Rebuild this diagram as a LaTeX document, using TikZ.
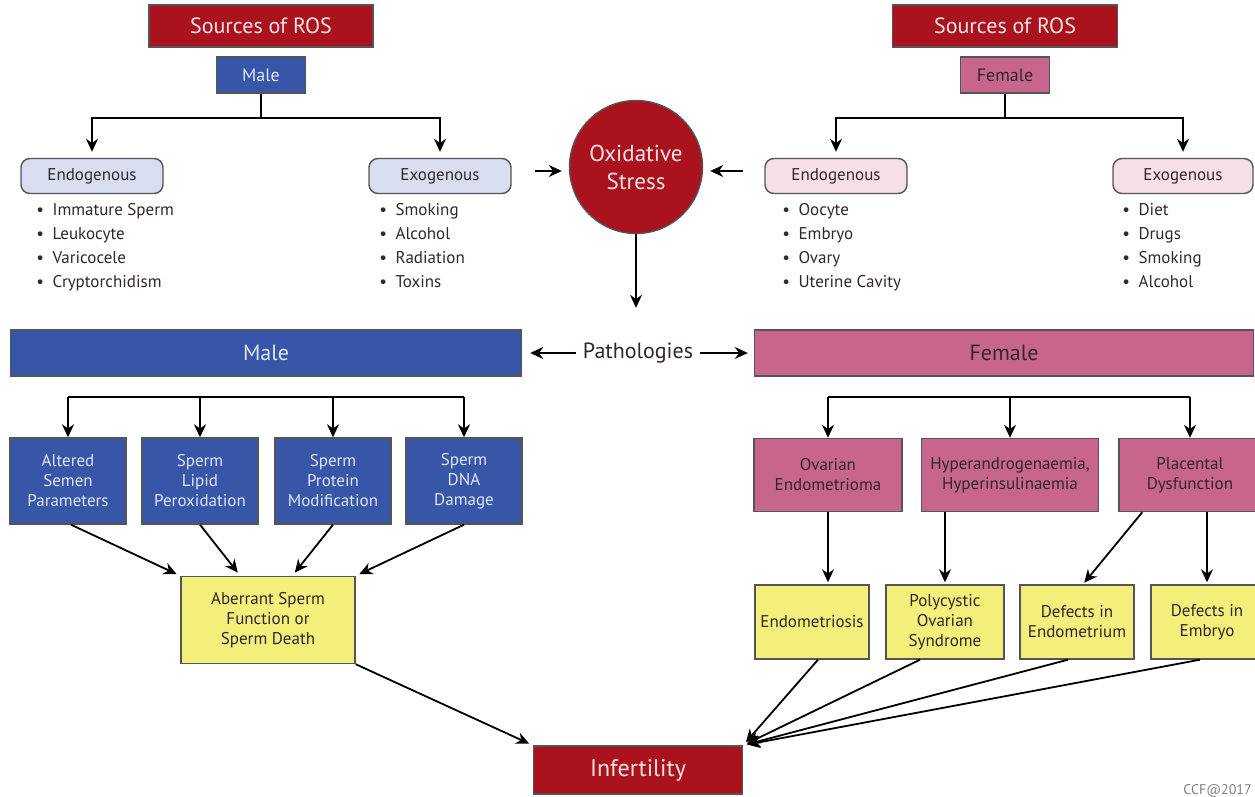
\documentclass[tikz,border=0pt]{standalone}
\usepackage{fontspec}
\setmainfont{PT Sans}
\usetikzlibrary{arrows.meta}

\definecolor{rosred}{RGB}{170,18,30}
\definecolor{maleblue}{RGB}{56,86,168}
\definecolor{femalepink}{RGB}{199,101,141}
\definecolor{malelight}{RGB}{217,221,240}
\definecolor{femalelight}{RGB}{246,223,233}
\definecolor{resultyellow}{RGB}{243,239,122}
\definecolor{paletext}{RGB}{252,228,228}
\definecolor{bluetext}{RGB}{224,229,248}
\definecolor{darktext}{RGB}{50,38,44}
\definecolor{edgegray}{RGB}{85,85,85}

\tikzset{
  box/.style={draw=edgegray, line width=0.7pt, align=center, inner sep=2pt},
  redbox/.style={box, fill=rosred, text=paletext},
  bluebox/.style={box, fill=maleblue, text=bluetext},
  pinkbox/.style={box, fill=femalepink, text=darktext},
  yellowbox/.style={box, fill=resultyellow, text=darktext,
    font=\fontsize{8.5}{10}\selectfont},
  origin/.style={box, rounded corners=4.5pt, minimum width=71pt,
    minimum height=17.5pt, text=darktext, font=\fontsize{8.5}{10}\selectfont},
  bullets/.style={anchor=north west, inner sep=0pt, align=left, text=darktext,
    font=\fontsize{8.5}{12}\selectfont},
  arr/.style={-{Stealth[length=6.5pt,width=6pt]}, line width=0.9pt},
  fork/.style={line width=0.9pt}
}

\begin{document}
\begin{tikzpicture}[x=0.5pt,y=-0.5pt]
  \useasboundingbox (0,0) rectangle (1255,797);

  % --- sources of ROS, male side
  \node[redbox, minimum width=112pt, minimum height=21pt,
        font=\fontsize{11}{13}\selectfont] (srcm) at (261,26) {Sources of ROS};
  \node[bluebox, minimum width=44.5pt, minimum height=18pt,
        font=\fontsize{9}{11}\selectfont] (male) at (261,75) {Male};
  \node[origin, fill=malelight] (mendo) at (92,176) {Endogenous};
  \node[origin, fill=malelight] (mexo) at (440,176) {Exogenous};
  \node[bullets] (mendlist) at (36,203)
    {\textbullet\enspace Immature Sperm\\ \textbullet\enspace Leukocyte\\
     \textbullet\enspace Varicocele\\ \textbullet\enspace Cryptorchidism};
  \node[bullets] (mexolist) at (379,203)
    {\textbullet\enspace Smoking\\ \textbullet\enspace Alcohol\\
     \textbullet\enspace Radiation\\ \textbullet\enspace Toxins};

  % --- sources of ROS, female side
  \node[redbox, minimum width=112.5pt, minimum height=21pt,
        font=\fontsize{11}{13}\selectfont] (srcf) at (1005,26) {Sources of ROS};
  \node[pinkbox, minimum width=44.5pt, minimum height=18pt,
        font=\fontsize{9}{11}\selectfont] (female) at (1005,75) {Female};
  \node[origin, fill=femalelight] (fendo) at (836,176) {Endogenous};
  \node[origin, fill=femalelight, minimum width=70pt] (fexo) at (1183,176) {Exogenous};
  \node[bullets] (fendlist) at (782,203)
    {\textbullet\enspace Oocyte\\ \textbullet\enspace Embryo\\
     \textbullet\enspace Ovary\\ \textbullet\enspace Uterine Cavity};
  \node[bullets] (fexolist) at (1122,203)
    {\textbullet\enspace Diet\\ \textbullet\enspace Drugs\\
     \textbullet\enspace Smoking\\ \textbullet\enspace Alcohol};

  \coordinate (mfork) at (261,118);
  \coordinate (ffork) at (1005,118);
  \draw[fork] (male) -- (mfork);
  \draw[arr, shorten >=3pt] (mfork) -| (mendo);
  \draw[arr, shorten >=3pt] (mfork) -| (mexo);
  \draw[fork] (female) -- (ffork);
  \draw[arr, shorten >=3pt] (ffork) -| (fendo);
  \draw[arr, shorten >=3pt] (ffork) -| (fexo);

  % --- oxidative stress
  \node[circle, draw=edgegray, line width=0.7pt, fill=rosred, text=paletext,
        minimum size=66.5pt, inner sep=0pt, align=center,
        font=\fontsize{11.5}{14}\selectfont] (oxy) at (636,167) {Oxidative\\Stress};
  \coordinate (inm) at (535,171);
  \coordinate (inf) at (743,171);
  \draw[arr, line width=0.6pt, shorten >=3.5pt] (inm) -- (oxy.west |- inm);
  \draw[arr, line width=0.6pt, shorten >=3.5pt] (inf) -- (oxy.east |- inf);

  % --- pathologies
  \node[font=\fontsize{11}{13}\selectfont, text=darktext] (patho) at (638,353) {Pathologies};
  \node[bluebox, minimum width=255.5pt, minimum height=23pt,
        font=\fontsize{11}{13}\selectfont] (mbar) at (266,353) {Male};
  \node[pinkbox, minimum width=249.5pt, minimum height=23pt,
        font=\fontsize{11}{13}\selectfont] (fbar) at (1004,353) {Female};
  \draw[arr, shorten >=14pt] (oxy.south) -- (oxy.south |- patho.north);
  \draw[arr, shorten >=4pt] (patho) -- (mbar);
  \draw[arr, shorten >=3pt] (patho) -- (fbar);

  % male pathologies
  \foreach \x/\lbl [count=\i] in {68/{Altered\\Semen\\Parameters},
      200/{Sperm\\Lipid\\Peroxidation}, 333/{Sperm\\Protein\\Modification},
      464/{Sperm\\DNA\\Damage}}
    \node[bluebox, minimum width=58pt, minimum height=43pt,
          font=\fontsize{8.5}{10}\selectfont] (mp\i) at (\x,481) {\lbl};
  \coordinate (mbus) at (0,397);
  \draw[fork] (mp1.north |- mbus) -- (mp4.north |- mbus);
  \foreach \i in {1,...,4}
    \draw[arr] (mp\i.north |- mbus) -- (mp\i.north);

  \node[yellowbox, minimum width=87pt, minimum height=43.5pt] (aber) at (268,620)
    {Aberrant Sperm\\Function or\\Sperm Death};
  \draw[arr, shorten >=2pt] ([xshift=1.5pt]mp1.south) -- (aber.north west);
  \draw[arr, shorten >=2pt] (mp2.south) -- ([xshift=30pt]aber.north west);
  \draw[arr, shorten >=2pt] (mp3.south) -- ([xshift=56pt]aber.north west);
  \draw[arr, shorten >=2pt] (mp4.south) -- (aber.north east);

  % female pathologies
  \node[pinkbox, minimum width=74pt, minimum height=36.5pt,
        font=\fontsize{8.5}{10}\selectfont] (fp1) at (828,475) {Ovarian\\Endometrioma};
  \node[pinkbox, minimum width=88.5pt, minimum height=36.5pt,
        font=\fontsize{8.5}{10}\selectfont] (fp2) at (1010,475)
    {Hyperandrogenaemia,\\Hyperinsulinaemia};
  \node[pinkbox, minimum width=71pt, minimum height=36.5pt,
        font=\fontsize{8.5}{10}\selectfont] (fp3) at (1190,475) {Placental\\Dysfunction};
  \coordinate (fbus) at (0,397);
  \draw[fork] (fp1.north |- fbus) -- (fp3.north |- fbus);
  \foreach \i in {1,2,3}
    \draw[arr] (fp\i.north |- fbus) -- (fp\i.north);

  \node[yellowbox, minimum width=57pt, minimum height=37pt] (fy1) at (812,622) {Endometriosis};
  \node[yellowbox, minimum width=59pt, minimum height=37pt] (fy2) at (945,622)
    {Polycystic\\Ovarian\\Syndrome};
  \node[yellowbox, minimum width=57pt, minimum height=37pt] (fy3) at (1077,622)
    {Defects in\\Endometrium};
  \node[yellowbox, minimum width=56pt, minimum height=37pt] (fy4) at (1207,622)
    {Defects in\\Embryo};
  \draw[arr, shorten >=1pt] (fp1.south) -- (fp1.south |- fy1.north);
  \draw[arr, shorten >=1pt] (fy2.north |- fp2.south) -- (fy2.north);
  \draw[arr, shorten >=1pt] ([xshift=12pt]fp3.south west) -- ([xshift=3pt]fy3.north);
  \draw[arr, shorten >=1pt] (fy4.north |- fp3.south) -- (fy4.north);

  % --- outcome
  \node[redbox, minimum width=104.5pt, minimum height=24pt,
        font=\fontsize{12}{14}\selectfont] (infert) at (638,770) {Infertility};
  \draw[arr, shorten >=2pt] (aber.south east) -- (infert.north west);
  \draw[arr, shorten >=2pt] ([xshift=3pt]fy1.south) -- (infert.north east);
  \draw[arr, shorten >=2pt] ([xshift=-12.5pt]fy2.south) -- (infert.north east);
  \draw[arr, shorten >=2pt] ([xshift=-4.5pt]fy3.south) -- (infert.north east);
  \draw[arr, shorten >=2pt] ([xshift=-3.5pt]fy4.south) -- (infert.north east);

  \node[anchor=north west, inner sep=0pt, text=gray, font=\fontsize{7}{8}\selectfont]
    (credit) at (1183,784) {CCF@2017};
\end{tikzpicture}
\end{document}
